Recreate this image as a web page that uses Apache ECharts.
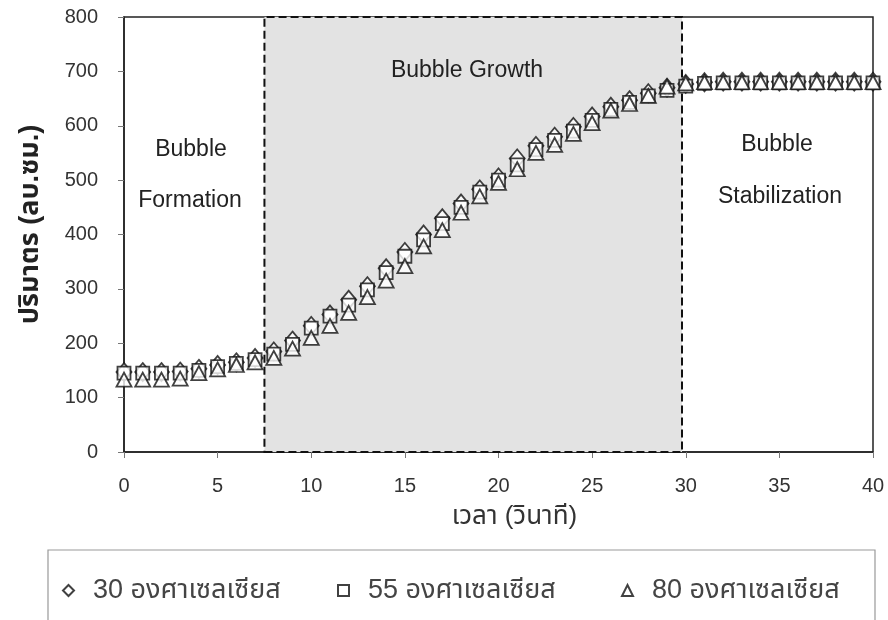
<!DOCTYPE html>
<html>
<head>
<meta charset="utf-8">
<script src="https://cdn.jsdelivr.net/npm/echarts@6/dist/echarts.min.js"></script>
<style>html,body{margin:0;padding:0;background:#fff}#c{width:888px;height:620px}</style>
</head>
<body>
<div id="c"></div>
<script>
const times = [0,1,2,3,4,5,6,7,8,9,10,11,12,13,14,15,16,17,18,19,20,21,22,23,24,25,26,27,28,29,30,31,32,33,34,35,36,37,38,39,40];
const v30 = [147,147,147,148,153,160,165,173,185,205,232,253,280,305,338,368,400,430,457,483,505,540,563,580,598,617,635,647,660,670,677,680,681,681,681,681,681,681,681,681,681];
const v55 = [145,145,145,145,150,157,163,170,180,198,228,250,270,298,330,360,390,420,450,478,500,528,556,573,590,610,630,643,655,665,673,678,679,679,679,679,679,679,679,679,679];
const v80 = [133,133,133,135,145,152,160,165,173,190,210,232,256,285,315,342,378,408,440,470,495,520,550,565,585,605,628,640,655,672,678,680,680,680,680,680,680,680,680,680,680];
const seriesNames = ['30 องศาเซลเซียส','55 องศาเซลเซียส','80 องศาเซลเซียส'];
const growthRange = [7.5, 29.8];
const yTicks = {min:0, max:800, interval:100};
const xTicks = {min:0, max:40, interval:5};

const FONT = '"Liberation Sans", Arial, sans-serif';
const THAI = '"Liberation Sans", "Noto Sans Thai", "Loma", "Garuda", sans-serif';

function pts(vals){ return times.map((t,i)=>[t, vals[i]]); }
const markerStyle = {color:'#ffffff', borderColor:'#111', borderWidth:1.8};
const legendBase = {top:577, padding:0, itemWidth:11, itemHeight:11, selectedMode:false,
  textStyle:{fontFamily:THAI, fontSize:27, color:'#444', padding:[0,0,0,14]}};
const regionText = (x,y,t)=>({type:'text', z:100, style:{x:x, y:y, text:t, fontFamily:FONT, fontSize:23, fill:'#222', textAlign:'center', textVerticalAlign:'middle'}});

const chart = echarts.init(document.getElementById('c'));
chart.setOption({
  animation:false,
  backgroundColor:'#fff',
  grid:{left:124, right:15, top:17, bottom:168, show:true, borderColor:'#222', borderWidth:1.5, backgroundColor:'transparent'},
  xAxis:{type:'value', min:xTicks.min, max:xTicks.max, interval:xTicks.interval,
    name:'เวลา (วินาที)', nameLocation:'middle', nameGap:52,
    nameTextStyle:{fontFamily:THAI, fontSize:26, color:'#333', padding:[0,0,0,32]},
    axisLine:{lineStyle:{color:'#222', width:1.5}}, axisTick:{show:true, length:6, lineStyle:{color:'#777'}},
    axisLabel:{fontFamily:FONT, fontSize:20, color:'#333', margin:24}, splitLine:{show:false}},
  yAxis:{type:'value', min:yTicks.min, max:yTicks.max, interval:yTicks.interval,
    name:'ปริมาตร (ลบ.ซม.)', nameLocation:'middle', nameGap:80, nameRotate:90,
    nameTextStyle:{fontFamily:THAI, fontSize:27, fontWeight:'bold', color:'#222', padding:[0,0,0,20]},
    axisLine:{lineStyle:{color:'#222', width:1.5}}, axisTick:{show:true, length:6, lineStyle:{color:'#777'}},
    axisLabel:{fontFamily:FONT, fontSize:20, color:'#333', margin:26}, splitLine:{show:false}},
  legend:[
    Object.assign({left:62, data:[seriesNames[0]]}, legendBase),
    Object.assign({left:337, data:[seriesNames[1]]}, legendBase),
    Object.assign({left:621, data:[seriesNames[2]]}, legendBase)
  ],
  graphic:[
    {type:'rect', shape:{x:48, y:550, width:827, height:100}, style:{fill:'none', stroke:'#999', lineWidth:1.2}, z:-1},
    regionText(191,150,'Bubble'),
    regionText(190,201,'Formation'),
    regionText(467,71,'Bubble Growth'),
    regionText(777,145,'Bubble'),
    regionText(780,197,'Stabilization')
  ],
  series:[
    {name:seriesNames[0], type:'scatter', symbol:'diamond', symbolSize:[15,18], data:pts(v30), itemStyle:markerStyle, z:3,
      markArea:{silent:true, itemStyle:{color:'#e3e3e3', borderColor:'#111', borderWidth:2, borderType:'dashed'},
        data:[[{xAxis:growthRange[0], yAxis:yTicks.min},{xAxis:growthRange[1], yAxis:yTicks.max}]]}},
    {name:seriesNames[1], type:'scatter', symbol:'rect', symbolSize:13, data:pts(v55), itemStyle:markerStyle, z:4},
    {name:seriesNames[2], type:'scatter', symbol:'triangle', symbolSize:[15,14], data:pts(v80), itemStyle:markerStyle, z:5}
  ]
});
</script>
</body>
</html>
